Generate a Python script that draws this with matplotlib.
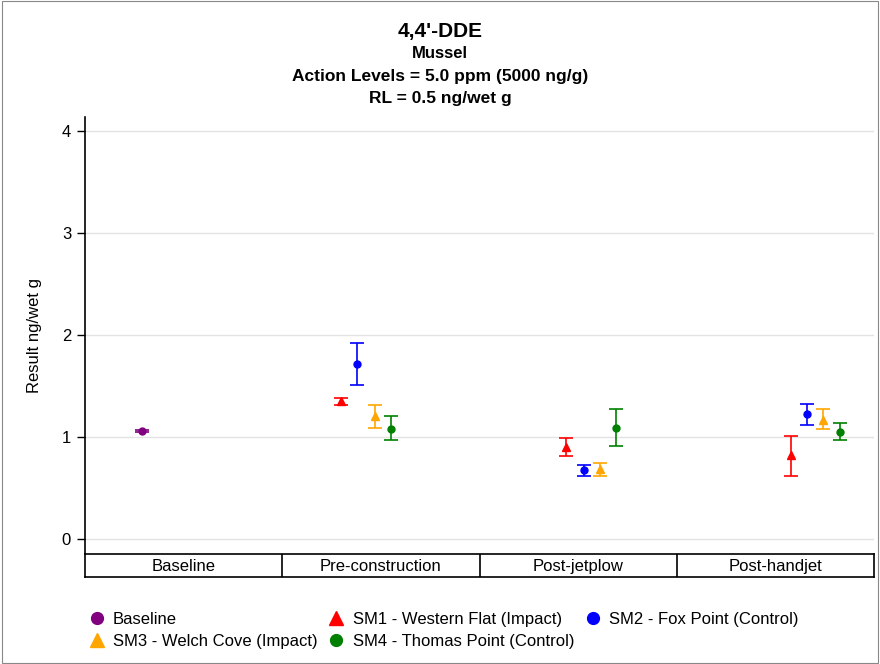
import matplotlib
matplotlib.use("Agg")
import matplotlib.pyplot as plt
from matplotlib.lines import Line2D
from matplotlib.patches import Rectangle

plt.rcParams["font.family"] = ["Liberation Sans", "DejaVu Sans"]

# Sampling periods along the x axis
periods = ["Baseline", "Pre-construction", "Post-jetplow", "Post-handjet"]

# Station results (ng/wet g): mean, lower and upper error bounds, x placement
baseline_x = [0.29]
baseline_mean = [1.06]
baseline_lo = [1.05]
baseline_hi = [1.07]

sm1_x = [1.30, 2.44, 3.58]
sm1_mean = [1.35, 0.90, 0.82]
sm1_lo = [1.31, 0.81, 0.62]
sm1_hi = [1.38, 0.99, 1.01]

sm2_x = [1.38, 2.53, 3.66]
sm2_mean = [1.72, 0.67, 1.22]
sm2_lo = [1.51, 0.62, 1.12]
sm2_hi = [1.92, 0.72, 1.32]

sm3_x = [1.47, 2.61, 3.74]
sm3_mean = [1.20, 0.68, 1.17]
sm3_lo = [1.09, 0.62, 1.08]
sm3_hi = [1.31, 0.74, 1.27]

sm4_x = [1.55, 2.69, 3.83]
sm4_mean = [1.08, 1.09, 1.05]
sm4_lo = [0.97, 0.91, 0.97]
sm4_hi = [1.20, 1.27, 1.14]

series = [
    ("Baseline", baseline_x, baseline_mean, baseline_lo, baseline_hi, "#800080", "o"),
    ("SM1 - Western Flat (Impact)", sm1_x, sm1_mean, sm1_lo, sm1_hi, "#ff0000", "^"),
    ("SM2 - Fox Point (Control)", sm2_x, sm2_mean, sm2_lo, sm2_hi, "#0000ff", "o"),
    ("SM3 - Welch Cove (Impact)", sm3_x, sm3_mean, sm3_lo, sm3_hi, "#ffa500", "^"),
    ("SM4 - Thomas Point (Control)", sm4_x, sm4_mean, sm4_lo, sm4_hi, "#008000", "o"),
]

fig = plt.figure(figsize=(8.8, 6.64), dpi=100)
fig.patches.append(Rectangle((0.002, 0.002), 0.996, 0.996, transform=fig.transFigure,
                             fill=False, edgecolor="#888888", linewidth=0.8))

W, H = 880.0, 664.0
left, right = 85 / W, 874 / W
ax = fig.add_axes([left, 1 - 554 / H, right - left, (554 - 117) / H])

handles = {}
for label, xs, mean, lo, hi, color, marker in series:
    yerr = [[m - l for m, l in zip(mean, lo)], [h - m for m, h in zip(mean, hi)]]
    ax.errorbar(xs, mean, yerr=yerr, fmt="none", ecolor=color, elinewidth=1.2,
                capsize=5, capthick=1.2, zorder=3)
    ms = 5 if marker == "o" else 6
    ax.plot(xs, mean, linestyle="none", marker=marker, color=color, markersize=ms, zorder=4)
    handles[label] = Line2D([], [], linestyle="none", marker=marker, color=color,
                            markersize=8.5 if marker == "o" else 9.5)

ax.set_xlim(0, len(periods))
ax.set_ylim(-0.15, 4.14)
ax.set_yticks([0, 1, 2, 3, 4])
ax.set_xticks([])
ax.grid(axis="y", color="#e3e3e3", linewidth=1)
ax.set_axisbelow(True)
for side in ("top", "right", "bottom"):
    ax.spines[side].set_visible(False)
ax.spines["left"].set_linewidth(1.2)
ax.tick_params(axis="y", length=6, width=1, labelsize=12, pad=4)
ax.set_ylabel("Result ng/wet g", fontsize=12, labelpad=14)

# Period table under the plot area
tax = fig.add_axes([left, 1 - 577 / H, right - left, (577 - 554) / H])
tax.set_xlim(0, len(periods))
tax.set_ylim(0, 1)
tax.set_xticks([])
tax.set_yticks([])
for sp in tax.spines.values():
    sp.set_linewidth(1.2)
for i, name in enumerate(periods):
    if i > 0:
        tax.axvline(i, color="black", linewidth=1.2)
    tax.text(i + 0.5, 0.45, name, ha="center", va="center", fontsize=12)

# Titles
fig.text(0.5, 1 - 32 / H, "4,4'-DDE", ha="center", va="center", fontsize=15, fontweight="bold")
fig.text(0.5, 1 - 54 / H, "Mussel", ha="center", va="center", fontsize=12, fontweight="bold")
fig.text(0.5, 1 - 76 / H, "Action Levels = 5.0 ppm (5000 ng/g)", ha="center", va="center",
         fontsize=12.5, fontweight="bold")
fig.text(0.5, 1 - 98 / H, "RL = 0.5 ng/wet g", ha="center", va="center", fontsize=12.5,
         fontweight="bold")

order = ["Baseline", "SM3 - Welch Cove (Impact)", "SM1 - Western Flat (Impact)",
         "SM4 - Thomas Point (Control)", "SM2 - Fox Point (Control)"]
fig.legend([handles[k] for k in order], order, ncol=3, loc="upper left",
           bbox_to_anchor=(69 / W, 1 - 597 / H), frameon=False, fontsize=12,
           handletextpad=0.22, columnspacing=0.4, labelspacing=0.4, handlelength=1.5)

fig.savefig("out.png", dpi=100)
